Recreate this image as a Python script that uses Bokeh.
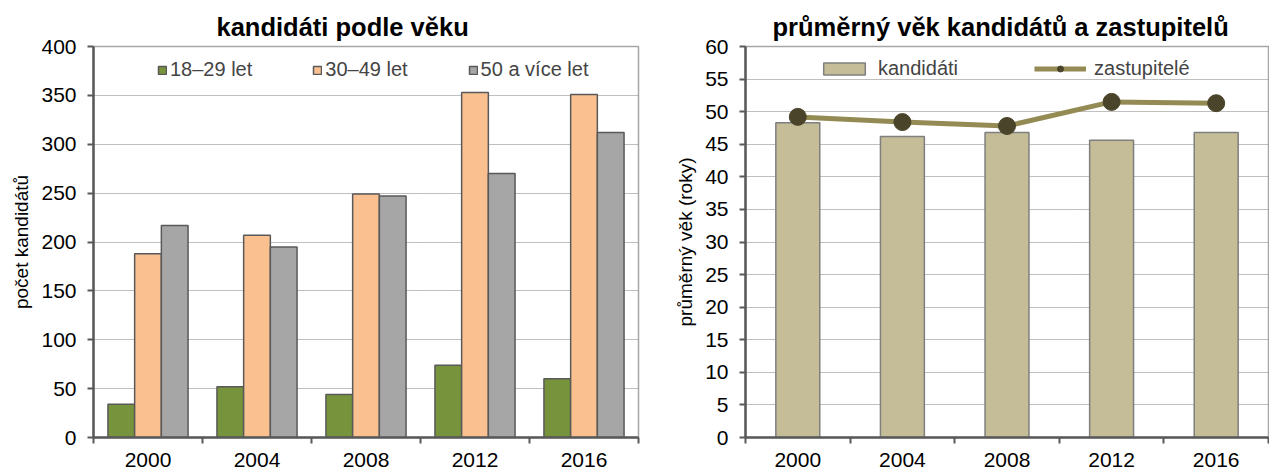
from bokeh.plotting import figure
from bokeh.models import ColumnDataSource, Range1d, FixedTicker, Legend, LegendItem
from bokeh.layouts import row
from bokeh.transform import dodge
from bokeh.embed import file_html
from bokeh.resources import INLINE

years = ["2000", "2004", "2008", "2012", "2016"]
age_18_29 = [34, 52, 44, 74, 60]
age_30_49 = [188, 207, 249, 353, 351]
age_50_plus = [217, 195, 247, 270, 312]
avg_candidates = [48.3, 46.2, 46.8, 45.6, 46.8]
avg_councillors = [49.2, 48.4, 47.8, 51.5, 51.3]

FONT = "Liberation Sans"
xs = list(range(len(years)))
minor = [i - 0.5 for i in xs] + [xs[-1] + 0.5]

src = ColumnDataSource(dict(x=xs, a=age_18_29, b=age_30_49, c=age_50_plus,
                            cand=avg_candidates, rep=avg_councillors))


def style(p, ymax, ystep, ylabel, title_offset):
    p.title.text_font = FONT
    p.title.text_font_size = "25.5px"
    p.title.text_font_style = "bold"
    p.title.text_color = "#000000"
    p.title.align = "left"
    p.title.offset = title_offset
    p.title.standoff = 11
    p.xaxis.ticker = FixedTicker(ticks=xs, minor_ticks=minor)
    p.xaxis.major_label_overrides = {i: y for i, y in zip(xs, years)}
    p.xaxis.major_tick_line_color = None
    p.xaxis.major_tick_out = 0
    p.xaxis.major_tick_in = 0
    p.xaxis.minor_tick_in = 0
    p.xaxis.minor_tick_out = 6
    p.xaxis.minor_tick_line_color = "#595959"
    p.xaxis.minor_tick_line_width = 2
    p.yaxis.ticker = FixedTicker(ticks=list(range(0, ymax + 1, ystep)))
    p.yaxis.minor_tick_line_color = None
    p.yaxis.major_tick_in = 0
    p.yaxis.major_tick_out = 6
    p.yaxis.major_tick_line_color = "#595959"
    p.yaxis.major_tick_line_width = 2
    for ax in (p.xaxis, p.yaxis):
        ax.axis_line_color = "#595959"
        ax.axis_line_width = 2.5
        ax.major_label_text_font = FONT
        ax.major_label_text_font_size = "21px"
        ax.major_label_text_color = "#000000"
    p.yaxis.axis_label = ylabel
    p.yaxis.axis_label_text_font = FONT
    p.yaxis.axis_label_text_font_size = "19px"
    p.yaxis.axis_label_text_font_style = "normal"
    p.yaxis.axis_label_text_color = "#000000"
    p.yaxis.axis_label_standoff = 6
    p.yaxis.major_label_standoff = 11
    p.xaxis.major_label_standoff = 9
    p.xgrid.visible = False
    p.ygrid.grid_line_color = "#7f7f7f"
    p.ygrid.grid_line_dash = "1 1"
    p.ygrid.grid_line_width = 1
    p.outline_line_color = "#a6a6a6"
    p.outline_line_width = 1.5


p1 = figure(width=648, height=472, x_range=Range1d(-0.5, 4.5), y_range=Range1d(0, 400),
            title="kandidáti podle věku", output_backend="svg", toolbar_location=None,
            min_border_left=93, min_border_right=10, min_border_top=46, min_border_bottom=34)
style(p1, 400, 50, "počet kandidátů", 123)

w = 0.245
r1 = p1.vbar(x=dodge("x", -w, range=p1.x_range), top="a", width=w, source=src,
             fill_color="#77933C", line_color="#595959", line_width=1.5)
r2 = p1.vbar(x="x", top="b", width=w, source=src,
             fill_color="#FAC090", line_color="#595959", line_width=1.5)
r3 = p1.vbar(x=dodge("x", w, range=p1.x_range), top="c", width=w, source=src,
             fill_color="#A6A6A6", line_color="#595959", line_width=1.5)
leg1 = Legend(items=[LegendItem(label="18–29 let", renderers=[r1]),
                     LegendItem(label="30–49 let", renderers=[r2]),
                     LegendItem(label="50 a více let", renderers=[r3])],
              orientation="horizontal", location=(64, 356),
              glyph_width=10, glyph_height=10, spacing=60, label_standoff=3,
              label_text_font=FONT, label_text_font_size="20px",
              border_line_color=None, background_fill_alpha=0, padding=0, margin=0)
p1.add_layout(leg1)

p2 = figure(width=621, height=472, x_range=Range1d(-0.5, 4.5), y_range=Range1d(0, 60),
            title="průměrný věk kandidátů a zastupitelů", output_backend="svg",
            toolbar_location=None,
            min_border_left=97, min_border_right=1, min_border_top=44, min_border_bottom=35)
style(p2, 60, 5, "průměrný věk (roky)", 27)

b = p2.vbar(x="x", top="cand", width=0.42, source=src,
            fill_color="#C4BD97", line_color="#7F7F7F", line_width=1.5)
ln = p2.line(x="x", y="rep", source=src, line_color="#948A54", line_width=5)
pt = p2.scatter(x="x", y="rep", source=src, size=17, fill_color="#4A452A",
                line_color="#4A452A")
leg2 = Legend(items=[LegendItem(label="kandidáti", renderers=[b]),
                     LegendItem(label="zastupitelé", renderers=[ln, pt])],
              orientation="horizontal", location=(73, 357),
              glyph_width=52, glyph_height=15, spacing=76, label_standoff=8,
              label_text_font=FONT, label_text_font_size="20px",
              border_line_color=None, background_fill_alpha=0, padding=0, margin=0)
p2.add_layout(leg2)

layout = row(p1, p2)
open("out.html", "w").write(file_html(layout, INLINE))
